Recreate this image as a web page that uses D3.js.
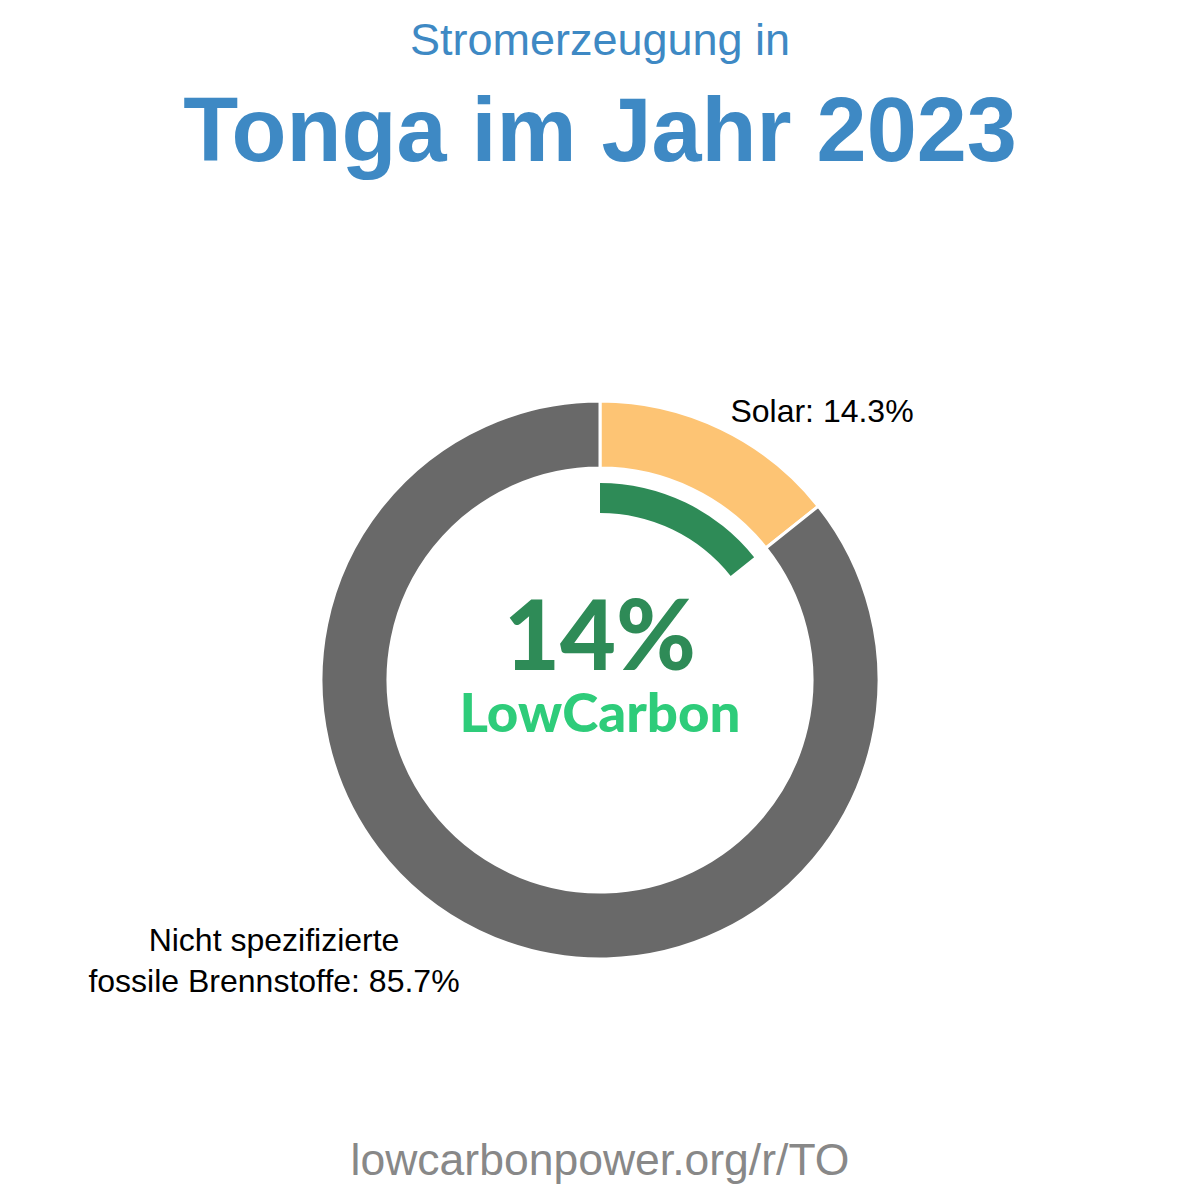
<!DOCTYPE html>
<html>
<head>
<meta charset="utf-8">
<script src="https://cdn.jsdelivr.net/npm/d3@7"></script>
<style>
  body { margin: 0; background: #fff; }
  svg { display: block; }
</style>
</head>
<body>
<div id="chart"></div>
<script>
'use strict'

// data
const sources = ["Solar", "Nicht spezifizierte\nfossile Brennstoffe"]
const shares = [14.3, 85.7]
const colors = ["#fdc474", "#696969"]
const lowCarbonShare = 14.3
const titleLine1 = "Stromerzeugung in"
const titleLine2 = "Tonga im Jahr 2023"
const footer = "lowcarbonpower.org/r/TO"

const width = 1200, height = 1200
const cx = 600, cy = 680
const outerR = 279, innerR = 212

const svg = d3.select("#chart").append("svg")
  .attr("width", width)
  .attr("height", height)

svg.append("text")
  .attr("x", width / 2).attr("y", 55)
  .attr("text-anchor", "middle")
  .style("font-family", "'Liberation Sans', Arial, sans-serif")
  .style("font-size", "45px")
  .style("fill", "#3e89c4")
  .text(titleLine1)

svg.append("text")
  .attr("x", width / 2).attr("y", 161)
  .attr("text-anchor", "middle")
  .style("font-family", "'Liberation Sans', Arial, sans-serif")
  .style("font-weight", "bold")
  .style("font-size", "90px")
  .style("fill", "#3e89c4")
  .text(titleLine2)

let pieData = sources.map((s, i) => ({ name: s, value: shares[i], color: colors[i] }))

const pie = d3.pie().sort(null).value(d => d.value)
const arcs = pie(pieData)

const arc = d3.arc().innerRadius(innerR).outerRadius(outerR)

const g = svg.append("g").attr("transform", "translate(" + cx + "," + cy + ")")

g.selectAll("path.slice")
  .data(arcs)
  .enter().append("path")
    .attr("class", "slice")
    .attr("d", arc)
    .attr("fill", d => d.data.color)
    .attr("stroke", "#fff")
    .attr("stroke-width", 3)

// inner low carbon arc
const lcArc = d3.arc()
  .innerRadius(167).outerRadius(197)
  .startAngle(0)
  .endAngle(2 * Math.PI * lowCarbonShare / 100)

g.append("path")
  .attr("d", lcArc())
  .attr("fill", "#2e8b57")

g.append("text")
  .attr("x", 0).attr("y", -10)
  .attr("text-anchor", "middle")
  .style("font-family", "Lato, sans-serif")
  .style("font-weight", 900)
  .style("font-size", "98px")
  .style("fill", "#2e8b57")
  .attr("textLength", 192)
  .attr("lengthAdjust", "spacingAndGlyphs")
  .text(Math.round(lowCarbonShare) + "%")

g.append("text")
  .attr("x", 0).attr("y", 52)
  .attr("text-anchor", "middle")
  .style("font-family", "Lato, sans-serif")
  .style("font-weight", 900)
  .style("font-size", "54px")
  .style("fill", "#2ecc7a")
  .attr("textLength", 281)
  .attr("lengthAdjust", "spacingAndGlyphs")
  .text("LowCarbon")

// label anchors relative to the donut centre (last line baseline)
const labelOffsets = [[222, -258], [-326, 312]]
const fmt = d3.format(".1f")
arcs.forEach(function(d, i) {
  let lines = d.data.name.split("\n")
  let t = g.append("text")
    .attr("text-anchor", "middle")
    .style("font-family", "'Liberation Sans', Arial, sans-serif")
    .style("font-size", "32px")
    .style("fill", "#000")
  lines.forEach(function(line, j) {
    let last = j == lines.length - 1
    t.append("tspan")
      .attr("x", labelOffsets[i][0])
      .attr("y", labelOffsets[i][1] + (j - (lines.length - 1)) * 41)
      .text(last ? line + ": " + fmt(d.data.value) + "%" : line)
  })
})

svg.append("text")
  .attr("x", width / 2).attr("y", 1175)
  .attr("text-anchor", "middle")
  .style("font-family", "'Liberation Sans', Arial, sans-serif")
  .style("font-size", "44.5px")
  .style("fill", "#888")
  .text(footer)
</script>
</body>
</html>
